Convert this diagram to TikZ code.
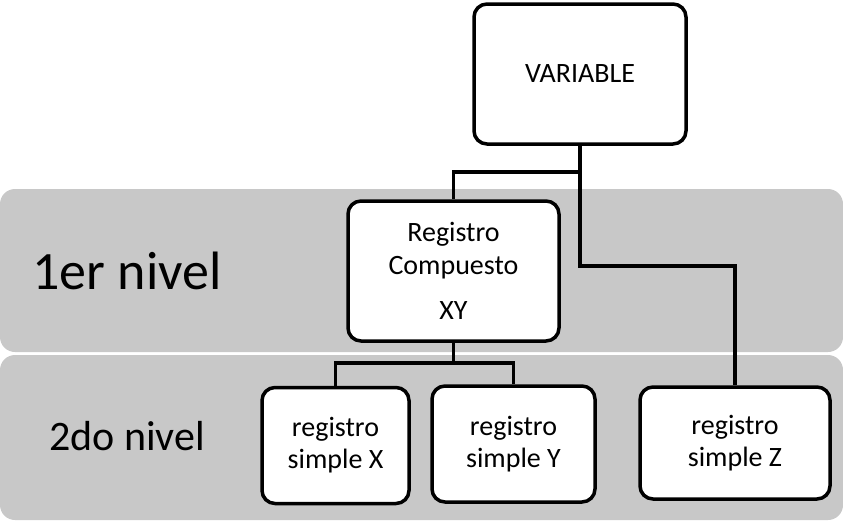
\documentclass[tikz,border=0pt]{standalone}
\usepackage{fontspec}
\setmainfont{Carlito}
\definecolor{bandgray}{RGB}{200,200,200}
\begin{document}
\begin{tikzpicture}[x=1pt,y=-1pt,
  box/.style={draw=black, line width=3.5pt, rounded corners=13pt, fill=white,
    align=center, inner sep=0pt, font=\fontsize{28}{32}\selectfont},
  conn/.style={draw=black, line width=3.5pt},
  band/.style={fill=bandgray, rounded corners=15pt},
  levellabel/.style={inner sep=0pt}]
\useasboundingbox (0,0) rectangle (843,520);
% bands
\fill[band] (0,189) rectangle (843,352);
\fill[band] (0,355) rectangle (843,520);
% level labels
\node[levellabel, font=\fontsize{54}{60}\selectfont] (l1) at (127,271) {1er nivel};
\node[levellabel, font=\fontsize{42}{48}\selectfont] (l2) at (127,436) {2do nivel};
% boxes
\node[box, minimum width=212pt, minimum height=140pt] (var) at (580,74) {VARIABLE};
\node[box, minimum width=211pt, minimum height=140pt, font=\fontsize{28}{33}\selectfont] (comp) at (453.5,271) {Registro\\Compuesto\\[12pt]XY};
\node[box, minimum width=147pt, minimum height=116pt] (sx) at (335.5,445.5) {registro\\simple X};
\node[box, minimum width=163pt, minimum height=116pt] (sy) at (513.5,444) {registro\\simple Y};
\node[box, minimum width=190pt, minimum height=112pt] (sz) at (735,443) {registro\\simple Z};
% junctions
\coordinate (j1) at (580,172);
\coordinate (j2) at (580,266);
\coordinate (j3) at (453.5,363);
% connectors
\draw[conn] (var.south) -- (j1) -| (comp.north);
\draw[conn] (j1) -- (j2) -| (sz.north);
\draw[conn] (comp.south) -- (j3);
\draw[conn] (j3) -| (sx.north);
\draw[conn] (j3) -| (sy.north);
\end{tikzpicture}
\end{document}
